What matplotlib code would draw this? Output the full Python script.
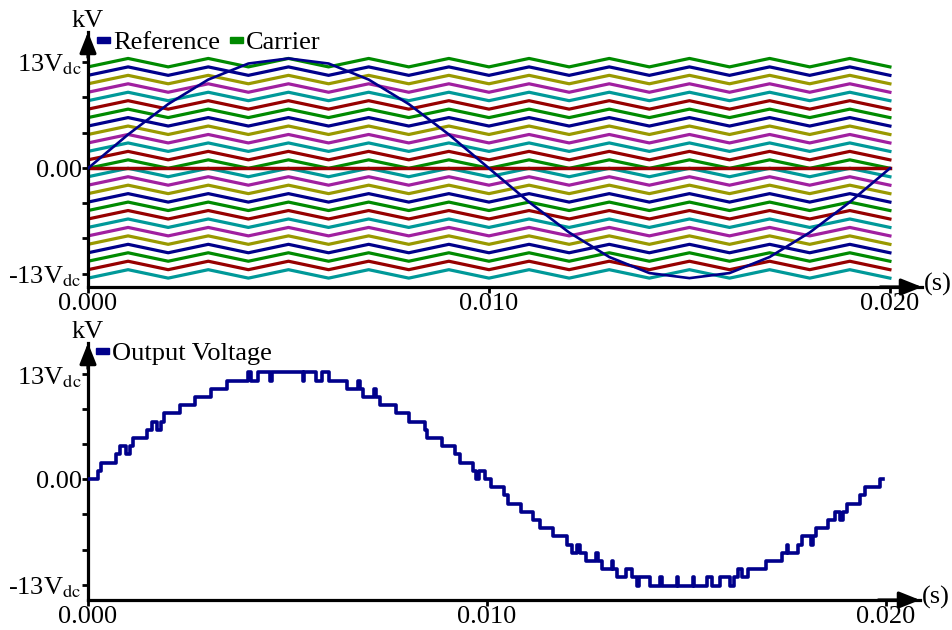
import numpy as np
import matplotlib
matplotlib.use('Agg')
import matplotlib.pyplot as plt
from matplotlib.patches import Rectangle

plt.rcParams['font.family'] = 'Liberation Serif'
plt.rcParams['mathtext.fontset'] = 'stix'

# ---- data (time in ms, voltage in units of Vdc) ----
carrier_t = [0, 1, 2, 3, 4, 5, 6, 7, 8, 9, 10, 11, 12, 13, 14, 15, 16, 17, 18, 19, 20]
carrier_shape = [0, 1, 0, 1, 0, 1, 0, 1, 0, 1, 0, 1, 0, 1, 0, 1, 0, 1, 0, 1, 0]
carrier_base = [-13, -12, -11, -10, -9, -8, -7, -6, -5, -4, -3, -2, -1,
                0, 1, 2, 3, 4, 5, 6, 7, 8, 9, 10, 11, 12]

ref_t = [0, 1, 2, 3, 4, 5, 6, 7, 8, 9, 10, 11, 12, 13, 14, 15, 16, 17, 18, 19, 20]
ref_v = [0, 4.0, 7.6, 10.5, 12.4, 13.0, 12.4, 10.5, 7.6, 4.0, 0,
         -4.0, -7.6, -10.5, -12.4, -13.0, -12.4, -10.5, -7.6, -4.0, 0]

out_t = [0.00, 0.26, 0.33, 0.69, 0.80, 0.94, 1.05, 1.13, 1.47, 1.60, 1.73, 1.82, 1.91,
         2.31, 2.68, 3.09, 3.49, 4.00, 4.08, 4.25, 4.56, 4.60, 5.38, 5.42, 5.71, 5.86,
         6.05, 6.48, 6.77, 6.81, 6.88, 7.17, 7.21, 7.32, 7.71, 8.05, 8.45, 8.50, 8.86,
         9.20, 9.32, 9.66, 9.73, 9.81, 9.95, 10.10, 10.43, 10.53, 10.84, 11.16, 11.33,
         11.65, 12.01, 12.12, 12.25, 12.33, 12.48, 12.73, 12.77, 12.87, 13.12, 13.16,
         13.25, 13.48, 13.63, 13.75, 13.80, 14.09, 14.34, 14.38, 14.75, 14.79, 15.15,
         15.19, 15.50, 15.63, 15.84, 16.09, 16.19, 16.30, 16.38, 16.55, 16.99, 17.38,
         17.51, 17.55, 17.80, 17.89, 18.12, 18.18, 18.24, 18.55, 18.72, 18.85, 18.93,
         19.01, 19.35, 19.47, 19.85, 19.93]
out_v = [0, 1, 2, 3, 4, 3, 4, 5, 6, 7, 6, 7, 8,
         9, 10, 11, 12, 13, 12, 13, 12, 13, 12, 13, 12, 13,
         12, 11, 12, 11, 10, 11, 10, 9, 8, 7, 6, 5, 4,
         3, 2, 1, 0, 1, 0, -1, -2, -3, -4, -5, -6,
         -7, -8, -9, -8, -9, -10, -9, -10, -11, -10, -11,
         -12, -11, -12, -13, -12, -13, -12, -13, -12, -13, -12,
         -13, -12, -13, -12, -13, -12, -11, -12, -11, -10, -9,
         -8, -9, -8, -7, -8, -7, -6, -5, -4, -5, -4,
         -3, -2, -1, 0, 0]

xtick_pos = [0, 0.010, 0.020]
xtick_labels = ['0.000', '0.010', '0.020']
top_yticks = [-12.5, -8.3, -4.15, 0, 4.2, 8.4, 12.6]
bot_yticks = [-12.9, -8.6, -4.3, 0, 4.25, 8.5, 12.75]
ytick_labels = [r'-13V$_{\mathrm{dc}}$', '', '', '0.00', '', '', r'13V$_{\mathrm{dc}}$']

# ---- colours ----
navy = '#00008B'
green = '#008A00'
dred = '#960000'
teal = '#009999'
magenta = '#A020A0'
olive = '#999900'
carrier_colors = [teal, dred, green, navy, olive, magenta, teal, dred, green, navy, olive, magenta, teal,
                  green, dred, teal, magenta, olive, navy, green, dred, teal, magenta, olive, navy, green]

W, H = 952, 630


def box(l, t, r, b):
    return [l / W, 1 - b / H, (r - l) / W, (b - t) / H]


def style_axes(ax, xmax, ylo, yhi, yticks):
    ax.set_xlim(0, xmax)
    ax.set_ylim(ylo, yhi)
    ax.patch.set_alpha(0)
    for s in ['top', 'right']:
        ax.spines[s].set_visible(False)
    for s in ['left', 'bottom']:
        ax.spines[s].set_linewidth(2.3)
    ax.set_xticks(xtick_pos)
    ax.set_xticklabels(xtick_labels)
    ax.set_yticks(yticks)
    ax.set_yticklabels(ytick_labels)
    ax.tick_params(axis='both', direction='out', length=4, width=2, labelsize=19, pad=0.5)
    arrow = dict(arrowstyle='-|>,head_length=1.25,head_width=0.5', color='k', lw=2.3,
                 mutation_scale=10, shrinkA=0, shrinkB=0)
    ax.annotate('', xy=(0, 1), xytext=(0, 0.9), xycoords='axes fraction',
                arrowprops=arrow, annotation_clip=False)
    ax.annotate('', xy=(1, 0), xytext=(0.95, 0), xycoords='axes fraction',
                arrowprops=arrow, annotation_clip=False)
    ax.text(0, 1.0, 'kV', transform=ax.transAxes, ha='center', va='bottom', fontsize=19)
    ax.text(1.002, 0.01, '(s)', transform=ax.transAxes, ha='left', va='center', fontsize=19)


fig = plt.figure(figsize=(9.52, 6.3), dpi=100)

# ---- top: reference and carriers ----
ax1 = fig.add_axes(box(88, 32, 922, 287))
ct = np.array(carrier_t) / 1000
cs = np.array(carrier_shape)
for base, col in zip(carrier_base, carrier_colors):
    ax1.plot(ct, base + cs, color=col, lw=2.3, zorder=2)
ax1.plot([ct[0], ct[-1]], [0, 0], color=dred, lw=2.5, zorder=2.5)
ax1.plot(np.array(ref_t) / 1000, ref_v, color=navy, lw=1.9, zorder=3)
style_axes(ax1, 0.0208, -14.05, 16.13, top_yticks)

# ---- bottom: output voltage ----
ax2 = fig.add_axes(box(88, 343, 920, 600))
ax2.step(np.array(out_t) / 1000, out_v, where='post', color=navy, lw=2.6, zorder=3)
style_axes(ax2, 0.02085, -14.76, 16.59, bot_yticks)

# ---- legends ----
def legend_item(x, y, color, label):
    fig.patches.append(Rectangle((x / W, 1 - (y + 3) / H), 13 / W, 6 / H,
                                 color=color, transform=fig.transFigure, figure=fig))
    fig.text((x + 16) / W, 1 - (y + 9) / H, label, fontsize=19, va='baseline')


legend_item(97, 40, navy, 'Reference')
legend_item(230, 40, green, 'Carrier')
legend_item(96, 351, navy, 'Output Voltage')

fig.savefig('out.png', dpi=100)
